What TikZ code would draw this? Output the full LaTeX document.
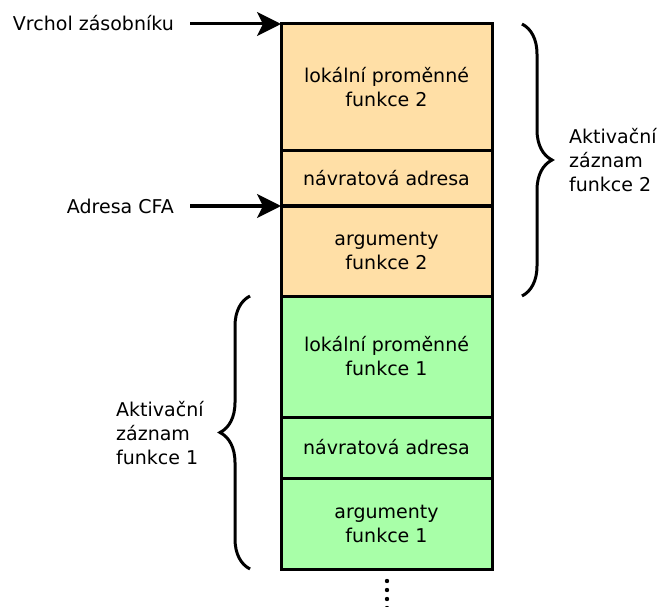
\documentclass[tikz,border=0pt]{standalone}
\usepackage{fontspec}
\setmainfont{DejaVu Sans}
\usetikzlibrary{arrows.meta,decorations.pathreplacing}
\definecolor{frameorange}{RGB}{255,223,166}
\definecolor{framegreen}{RGB}{168,255,168}
\begin{document}
\begin{tikzpicture}[x=1pt,y=-1pt,
  font=\fontsize{19}{24}\selectfont,
  cell/.style={draw=black,line width=3pt,minimum width=211pt,anchor=north west,
    inner sep=0pt,outer sep=0pt,align=center},
  f2/.style={cell,fill=frameorange},
  f1/.style={cell,fill=framegreen},
  pointer/.style={-{Stealth[length=24pt,width=24pt,inset=6pt]},line width=3pt,shorten <=16pt},
  bracket/.style={decorate,decoration={brace,amplitude=30pt},line width=3pt},
  caption/.style={inner sep=0pt,align=left}]
\useasboundingbox (0,0) rectangle (659,607);

% frame of function 2
\node[f2,minimum height=127pt] (loc2) at (281,24) {lokální proměnné\\funkce 2};
\node[f2,minimum height=55pt]  (ret2) at (281,151) {návratová adresa};
\node[f2,minimum height=90pt]  (arg2) at (281,206) {argumenty\\funkce 2};
% frame of function 1
\node[f1,minimum height=121pt] (loc1) at (281,296) {lokální proměnné\\funkce 1};
\node[f1,minimum height=61pt]  (ret1) at (281,417) {návratová adresa};
\node[f1,minimum height=91pt]  (arg1) at (281,478) {argumenty\\funkce 1};

% pointers into the stack
\node[inner sep=0pt,anchor=east] (top) at (174,23) {Vrchol zásobníku};
\node[inner sep=0pt,anchor=east] (cfa) at (174,206) {Adresa CFA};
\draw[pointer] (top.east |- loc2.north west) -- (loc2.north west);
\draw[pointer] (cfa.east |- arg2.north west) -- (arg2.north west);

% braces marking the activation records
\coordinate (b2top) at (522,24);
\coordinate (b2bot) at (522,296);
\draw[bracket] (b2top) -- (b2bot);
\node[caption,anchor=west] (rec2) at (569,160) {Aktivační\\záznam\\funkce 2};

\coordinate (b1top) at (250,296);
\coordinate (b1bot) at (250,569);
\draw[bracket] (b1bot) -- (b1top);
\node[caption,anchor=west] (rec1) at (116,433) {Aktivační\\záznam\\funkce 1};

% the stack continues below
\foreach \yy in {581,590,599,608}
  \fill (387,\yy) circle (2.2pt);
\end{tikzpicture}
\end{document}
